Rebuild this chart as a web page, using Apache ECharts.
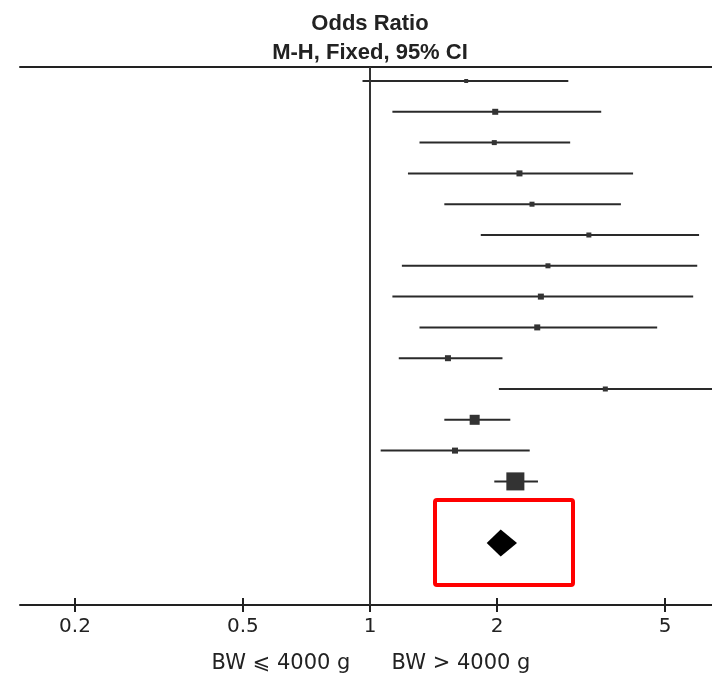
<!DOCTYPE html>
<html>
<head>
<meta charset="utf-8">
<script src="https://cdn.jsdelivr.net/npm/echarts@6/dist/echarts.min.js"></script>
<style>html,body{margin:0;padding:0;background:#fff}#c{width:712px;height:675px}</style>
</head>
<body>
<div id="c"></div>
<script>
// Study-level odds ratios (M-H, fixed, 95% CI)
const studyOR    = [1.69, 1.98, 1.97, 2.26, 2.42, 3.30, 2.64, 2.54, 2.49, 1.53, 3.61, 1.77, 1.59, 2.21];
const studyLower = [0.96, 1.13, 1.31, 1.23, 1.50, 1.83, 1.19, 1.13, 1.31, 1.17, 2.02, 1.50, 1.06, 1.97];
const studyUpper = [2.95, 3.53, 2.98, 4.20, 3.93, 6.02, 5.96, 5.83, 4.79, 2.06, 7.20, 2.15, 2.39, 2.50];
const studyWeight = [2.0, 4.6, 3.2, 4.6, 3.2, 3.2, 3.2, 4.6, 4.6, 4.6, 3.2, 12.8, 4.6, 41.5];
// Pooled estimate
const pooledOR = 2.04, pooledLower = 1.89, pooledUpper = 2.23;
// Axis tick labels
const tickValues = [0.2, 0.5, 1, 2, 5];
const tickLabels = ['0.2', '0.5', '1', '2', '5'];
const axisMin = 0.1482, axisMax = 6.46;
const footLeft = 'BW ⩽ 4000 g', footRight = 'BW > 4000 g';

const L = Math.log10;
const pooledRow = studyOR.length + 1;
const studyData = studyOR.map((v, i) => [i, L(studyLower[i]), L(v), L(studyUpper[i]), studyWeight[i]]);
const tickLog = tickValues.map(L);

function labelFor(v) {
  let best = 0;
  tickLog.forEach((t, i) => { if (Math.abs(t - v) < Math.abs(tickLog[best] - v)) best = i; });
  return tickLabels[best];
}

const chart = echarts.init(document.getElementById('c'));
const baseX = {
  type: 'value', min: L(axisMin), max: L(axisMax), splitLine: { show: false }
};
chart.setOption({
  animation: false,
  backgroundColor: '#fff',
  grid: { left: 20, right: 0, top: 67, bottom: 70, containLabel: false },
  xAxis: [
    Object.assign({}, baseX, {
      position: 'bottom',
      axisLine: { show: true, onZero: false, lineStyle: { color: '#222', width: 2 } },
      axisTick: { show: true, inside: false, length: 7, customValues: tickLog, lineStyle: { color: '#222', width: 2 } },
      axisLabel: { show: true, customValues: tickLog, margin: 12, formatter: labelFor,
        fontFamily: 'DejaVu Sans', fontSize: 20, color: '#222' }
    }),
    Object.assign({}, baseX, {
      position: 'bottom', offset: 0,
      axisLine: { show: false, onZero: false },
      axisTick: { show: true, inside: true, length: 7, customValues: tickLog, lineStyle: { color: '#222', width: 2 } },
      axisLabel: { show: false }
    }),
    Object.assign({}, baseX, {
      position: 'top',
      axisLine: { show: true, onZero: false, lineStyle: { color: '#222', width: 2 } },
      axisTick: { show: false }, axisLabel: { show: false }
    })
  ],
  yAxis: { type: 'value', inverse: true, min: -0.4545, max: 17.013, show: false },
  series: [
    {
      type: 'custom', xAxisIndex: 0, clip: true,
      data: studyData,
      renderItem: function (params, api) {
        const y = api.value(0);
        const a = api.coord([api.value(1), y]);
        const p = api.coord([api.value(2), y]);
        const b = api.coord([api.value(3), y]);
        const s = 2.8 * Math.sqrt(api.value(4));
        return {
          type: 'group',
          children: [
            { type: 'line', shape: { x1: a[0], y1: a[1], x2: b[0], y2: b[1] },
              style: { stroke: '#2a2a2a', lineWidth: 2 } },
            { type: 'rect', shape: { x: p[0] - s / 2, y: p[1] - s / 2, width: s, height: s },
              style: { fill: '#333' } }
          ]
        };
      },
      markLine: {
        silent: true, symbol: ['none', 'none'], label: { show: false },
        lineStyle: { color: '#333', width: 2, type: 'solid' },
        data: [{ xAxis: 0 }]
      }
    },
    {
      type: 'custom', xAxisIndex: 0, clip: true,
      data: [[pooledRow, L(pooledLower), L(pooledOR), L(pooledUpper)]],
      renderItem: function (params, api) {
        const y = api.value(0);
        const a = api.coord([api.value(1), y]);
        const p = api.coord([api.value(2), y]);
        const b = api.coord([api.value(3), y]);
        const h = 13.5;
        return {
          type: 'polygon',
          shape: { points: [[a[0], p[1]], [p[0], p[1] - h], [b[0], p[1]], [p[0], p[1] + h]] },
          style: { fill: '#000' }
        };
      }
    }
  ],
  graphic: [
    { type: 'text', x: 370, y: 24, style: { text: 'Odds Ratio', fontFamily: 'Liberation Sans', fontWeight: 'bold', fontSize: 22, fill: '#222', align: 'center', verticalAlign: 'middle' } },
    { type: 'text', x: 370, y: 53, style: { text: 'M-H, Fixed, 95% CI', fontFamily: 'Liberation Sans', fontWeight: 'bold', fontSize: 22, fill: '#222', align: 'center', verticalAlign: 'middle' } },
    { type: 'text', x: 281, y: 664, style: { text: footLeft, fontFamily: 'DejaVu Sans', fontSize: 21, fill: '#222', align: 'center', verticalAlign: 'middle' } },
    { type: 'text', x: 461, y: 664, style: { text: footRight, fontFamily: 'DejaVu Sans', fontSize: 21, fill: '#222', align: 'center', verticalAlign: 'middle' } },
    { type: 'rect', shape: { x: 435, y: 500, width: 138, height: 85, r: 2 }, style: { fill: 'none', stroke: '#ff0000', lineWidth: 4 } }
  ]
});
</script>
</body>
</html>
